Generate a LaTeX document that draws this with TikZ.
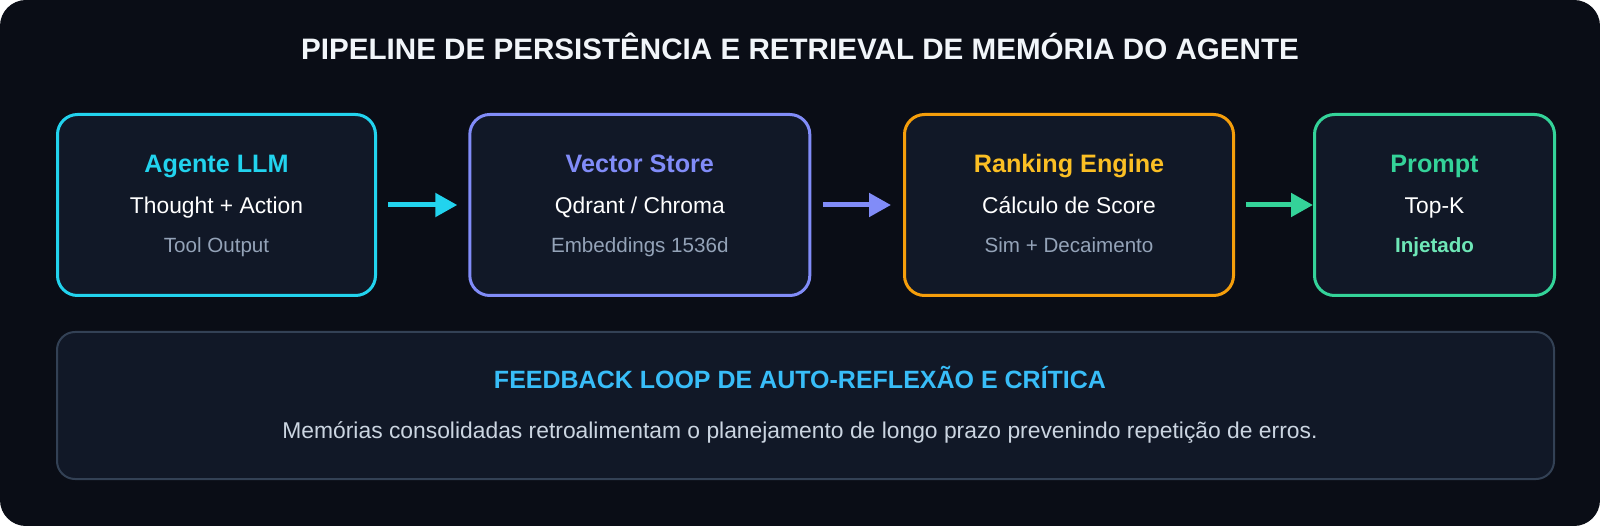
\documentclass[tikz,border=0pt]{standalone}
\usepackage{fontspec}
\setmainfont{Liberation Sans}
\usetikzlibrary{arrows.meta}

\definecolor{bgdark}{HTML}{0A0D16}
\definecolor{cardfill}{HTML}{111827}
\definecolor{headwhite}{HTML}{F1F5F9}
\definecolor{agentcyan}{HTML}{22D3EE}
\definecolor{storeviolet}{HTML}{818CF8}
\definecolor{rankamber}{HTML}{F59E0B}
\definecolor{rankgold}{HTML}{FBBF24}
\definecolor{promptgreen}{HTML}{34D399}
\definecolor{mintlight}{HTML}{6EE7B7}
\definecolor{loopsky}{HTML}{38BDF8}
\definecolor{loopedge}{HTML}{334155}
\definecolor{subgray}{HTML}{94A3B8}
\definecolor{bodygray}{HTML}{CBD5E1}

\tikzset{
    heading/.style={text=headwhite, anchor=base, font=\bfseries\fontsize{29.6}{35}\selectfont},
    stage/.style={draw=#1, fill=cardfill, line width=3pt, rounded corners=20pt,
        minimum height=181pt, inner sep=0pt},
    stagehead/.style={text=#1, anchor=base, font=\bfseries\fontsize{25.2}{30}\selectfont},
    stagemain/.style={text=white, anchor=base, font=\fontsize{22.8}{27}\selectfont},
    stagesub/.style={text=#1, anchor=base, font=\fontsize{20.6}{25}\selectfont},
    flow/.style={draw=#1, line width=5pt, -{Triangle[length=22pt,width=23pt]}},
    loopbox/.style={draw=loopedge, fill=cardfill, line width=2pt, rounded corners=18pt,
        inner sep=0pt},
    loophead/.style={text=loopsky, anchor=base, font=\bfseries\fontsize{25}{30}\selectfont},
    loopbody/.style={text=bodygray, anchor=base, font=\fontsize{22.85}{27}\selectfont},
}

\begin{document}
\begin{tikzpicture}[x=1pt, y=-1pt]
    % the page and the dark card
    \useasboundingbox (0,0) rectangle (1600,526);
    \fill[white] (0,0) rectangle (1600,526);
    \fill[bgdark, rounded corners=26pt] (0,0) rectangle (1600,526);

    % the heading
    \node[heading] (heading) at (800,59.6) {PIPELINE DE PERSISTÊNCIA E RETRIEVAL DE MEMÓRIA DO AGENTE};

    % the four stages of the pipeline
    \foreach \name/\cx/\w/\col/\headcol/\head/\main/\sub/\subcol/\subwt in {
        agent/216.5/318/agentcyan/agentcyan/{Agente LLM}/{Thought + Action}/{Tool Output}/subgray/\mdseries,
        store/639.8/340/storeviolet/storeviolet/{Vector Store}/{Qdrant / Chroma}/{Embeddings 1536d}/subgray/\mdseries,
        rank/1069/329/rankamber/rankgold/{Ranking Engine}/{Cálculo de Score}/{Sim + Decaimento}/subgray/\mdseries,
        prompt/1434.5/240/promptgreen/promptgreen/{Prompt}/{Top-K}/{Injetado}/mintlight/\bfseries}
    {
        \node[stage=\col, minimum width=\w] (\name) at (\cx,205) {};
        \node[stagehead=\headcol] (\name-head) at ([yshift=32.7pt]\name.center) {\head};
        \node[stagemain] (\name-main) at ([yshift=-8.3pt]\name.center) {\main};
        \node[stagesub=\subcol] (\name-sub) at ([yshift=-47.3pt]\name.center) {\subwt\sub};
    }

    % arrows between the stages
    \draw[flow=agentcyan, shorten <=11pt, shorten >=11pt] (agent) -- (store);
    \draw[flow=storeviolet, shorten <=11.5pt, shorten >=12pt] (store) -- (rank);
    \draw[flow=promptgreen, shorten <=11pt] (rank) -- (prompt);

    % the feedback loop panel
    \node[loopbox, minimum width=1497pt, minimum height=147pt] (loop) at (805.5,405.5) {};
    \node[loophead] (loop-head) at ([xshift=-5.5pt, yshift=16.9pt]loop.center)
        {FEEDBACK LOOP DE AUTO-REFLEXÃO E CRÍTICA};
    \node[loopbody] (loop-body) at ([xshift=-5.5pt, yshift=-32.5pt]loop.center)
        {Memórias consolidadas retroalimentam o planejamento de longo prazo prevenindo repetição de erros.};
\end{tikzpicture}
\end{document}
